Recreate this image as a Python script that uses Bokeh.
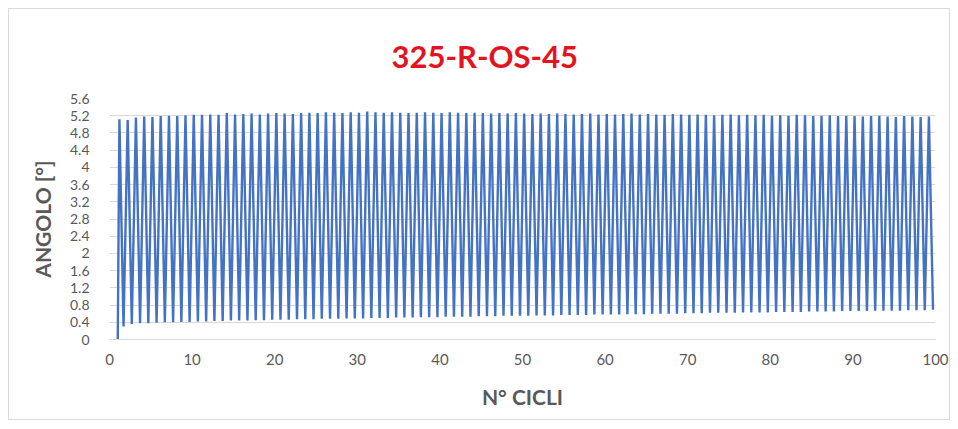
from bokeh.plotting import figure
from bokeh.models import FixedTicker, ColumnDataSource
from bokeh.embed import file_html
from bokeh.resources import INLINE

title_text = "325-R-OS-45"
x_label = "N° CICLI"
y_label = "ANGOLO [°]"

start_cycle = 1.0
start_angle = 0.0

peaks = [
    5.12, 5.10, 5.16, 5.18, 5.17, 5.19, 5.20, 5.19, 5.21, 5.22,
    5.22, 5.23, 5.22, 5.26, 5.23, 5.24, 5.25, 5.23, 5.25, 5.26,
    5.25, 5.24, 5.26, 5.27, 5.26, 5.28, 5.27, 5.26, 5.28, 5.27,
    5.30, 5.28, 5.27, 5.28, 5.27, 5.26, 5.27, 5.28, 5.27, 5.26,
    5.28, 5.27, 5.26, 5.27, 5.26, 5.25, 5.26, 5.25, 5.26, 5.25,
    5.24, 5.25, 5.24, 5.25, 5.24, 5.23, 5.24, 5.25, 5.23, 5.24,
    5.23, 5.24, 5.25, 5.23, 5.24, 5.23, 5.22, 5.24, 5.23, 5.22,
    5.23, 5.22, 5.21, 5.22, 5.23, 5.21, 5.22, 5.21, 5.22, 5.20,
    5.21, 5.20, 5.22, 5.21, 5.19, 5.20, 5.21, 5.19, 5.20, 5.19,
    5.18, 5.19, 5.20, 5.18, 5.17, 5.19, 5.18, 5.17, 5.18,
]
valleys = [
    0.30, 0.36, 0.38, 0.38, 0.39, 0.40, 0.40, 0.41, 0.41, 0.42,
    0.42, 0.43, 0.43, 0.44, 0.44, 0.44, 0.45, 0.45, 0.46, 0.46,
    0.46, 0.47, 0.47, 0.47, 0.48, 0.48, 0.48, 0.49, 0.49, 0.49,
    0.50, 0.50, 0.50, 0.51, 0.51, 0.51, 0.52, 0.52, 0.52, 0.53,
    0.53, 0.53, 0.53, 0.54, 0.54, 0.54, 0.55, 0.55, 0.55, 0.55,
    0.56, 0.56, 0.56, 0.57, 0.57, 0.57, 0.57, 0.58, 0.58, 0.58,
    0.58, 0.59, 0.59, 0.59, 0.60, 0.60, 0.60, 0.60, 0.61, 0.61,
    0.61, 0.62, 0.62, 0.62, 0.62, 0.63, 0.63, 0.63, 0.63, 0.64,
    0.64, 0.64, 0.64, 0.65, 0.65, 0.65, 0.65, 0.66, 0.66, 0.66,
    0.66, 0.67, 0.67, 0.67, 0.67, 0.68, 0.68, 0.68, 0.69,
]
cycles = list(range(1, len(peaks) + 1))

x_ticks = [0, 10, 20, 30, 40, 50, 60, 70, 80, 90, 100]
y_ticks = [0, 0.4, 0.8, 1.2, 1.6, 2, 2.4, 2.8, 3.2, 3.6, 4, 4.4, 4.8, 5.2, 5.6]
y_tick_labels = ["0", "0.4", "0.8", "1.2", "1.6", "2", "2.4", "2.8", "3.2",
                 "3.6", "4", "4.4", "4.8", "5.2", "5.6"]

# build the oscillating trace from the per-cycle extremes
xs = [start_cycle]
ys = [start_angle]
for c, pk, vl in zip(cycles, peaks, valleys):
    xs += [c + 0.2, c + 0.7]
    ys += [pk, vl]

src = ColumnDataSource(dict(x=xs, y=ys))

FONT = "Lato"
GRAY = "#595959"

p = figure(width=942, height=412, x_range=(0, 100), y_range=(0, 5.6),
           output_backend="svg", toolbar_location=None,
           min_border_left=100, min_border_right=16,
           min_border_top=89, min_border_bottom=82)
p.margin = (8, 8, 8, 8)
p.styles = {"border": "1px solid #d9d9d9", "box-sizing": "border-box"}

p.title.text = title_text
p.title.align = "left"
p.title.offset = 282
p.title.vertical_align = "top"
p.title.text_color = "#E3141E"
p.title.text_font = FONT
p.title.text_font_size = "31px"
p.title.text_font_style = "bold"
p.title.standoff = 43

p.line("x", "y", source=src, line_color="#4472C4", line_width=2.4)

p.outline_line_color = None
p.xgrid.grid_line_color = None
p.ygrid.grid_line_color = "#d9d9d9"
p.ygrid.ticker = FixedTicker(ticks=y_ticks)

p.xaxis.ticker = FixedTicker(ticks=x_ticks)
p.yaxis.ticker = FixedTicker(ticks=y_ticks)
p.yaxis.major_label_overrides = {t: l for t, l in zip(y_ticks, y_tick_labels)}

for ax in (p.xaxis, p.yaxis):
    ax.axis_line_color = None
    ax.major_tick_line_color = None
    ax.minor_tick_line_color = None
    ax.major_label_text_color = GRAY
    ax.major_label_text_font = FONT
    ax.axis_label_text_color = GRAY
    ax.axis_label_text_font = FONT
    ax.axis_label_text_font_size = "21px"
    ax.axis_label_text_font_style = "bold"

p.xaxis.major_label_text_font_size = "15px"
p.yaxis.major_label_text_font_size = "14px"
p.xaxis.axis_label = x_label
p.yaxis.axis_label = y_label
p.xaxis.major_label_standoff = 8
p.yaxis.major_label_standoff = 14
p.xaxis.axis_label_standoff = 16
p.yaxis.axis_label_standoff = 12
p.xaxis.axis_line_color = "#d9d9d9"

open("out.html", "w").write(file_html(p, INLINE))
